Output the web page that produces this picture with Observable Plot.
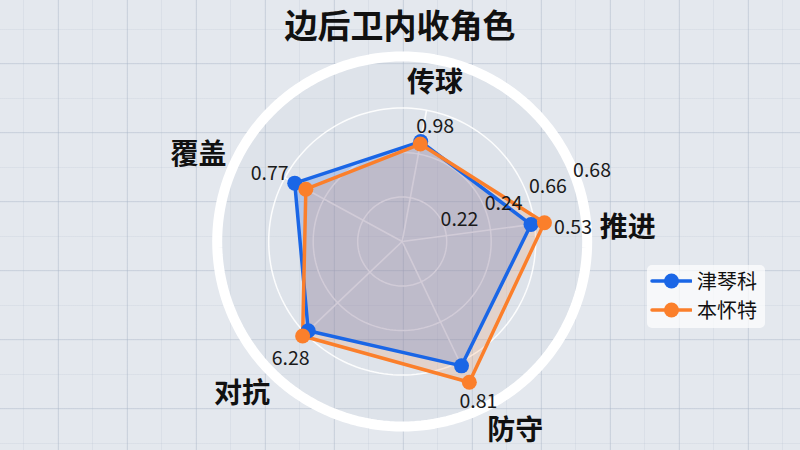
<!DOCTYPE html>
<html>
<head>
<meta charset="utf-8">
<script src="https://cdn.jsdelivr.net/npm/d3@7"></script>
<script src="https://cdn.jsdelivr.net/npm/@observablehq/plot@0.6"></script>
<style>
html, body { margin: 0; padding: 0; width: 800px; height: 450px; overflow: hidden; }
body {
  position: relative;
  font-family: "Noto Sans CJK SC", "Noto Sans", sans-serif;
  background-color: #e4e8ee;
  background-image:
    linear-gradient(to right, rgba(168,180,198,0.36) 1.5px, transparent 1.5px),
    linear-gradient(to bottom, rgba(168,180,198,0.36) 1.5px, transparent 1.5px),
    linear-gradient(to right, rgba(168,180,198,0.17) 1px, transparent 1px),
    linear-gradient(to bottom, rgba(168,180,198,0.17) 1px, transparent 1px);
  background-size: 69px 69px, 69px 69px, 34.5px 34.5px, 34.5px 34.5px;
  background-position: 58px 0, 0 63px, 23px 0, 0 29px;
}
#title { height: 40px; padding: 4px 0; line-height: 40px; text-align: center; font-size: 33px; font-weight: bold; color: #111; }
#chart svg { display: block; }
#legend { position: absolute; left: 647px; top: 265px; width: 118px; height: 63px; background: rgba(255,255,255,0.7); border-radius: 5px; box-sizing: border-box; padding-top: 1px; }
.row { height: 29.5px; display: flex; align-items: center; }
.row svg { margin-left: 3px; }
.row span { margin-left: 5px; font-size: 20px; color: #111; line-height: 1; }
</style>
</head>
<body>
<div id="title">边后卫内收角色</div>
<div id="chart"></div>
<div id="legend"></div>
<script>
// ---- data ----
const categories = ["传球", "推进", "防守", "对抗", "覆盖"];
const seriesNames = ["津琴科", "本怀特"];
const zinchenkoValues = [57.1, 73.0, 77.4, 72.8, 68.7];
const whiteValues = [55.7, 80.6, 87.6, 77.1, 61.6];
const valueLabels = ["0.98", "0.53", "0.81", "6.28", "0.77"];
const ringValues = [25, 50, 75];
const tickValues = [25, 50, 75, 100];
const tickLabels = ["0.22", "0.24", "0.66", "0.68"];
const seriesColors = ["#1a66e6", "#fb7f2b"];

// ---- layout ----
const W = 800, H = 402;
const cx = 401.7, cy = 193;   // centre in pixels
const k = 1.78;               // pixels per value unit
const rot = 10.5, step = 360 / categories.length;
const rad = a => a * Math.PI / 180;
const ang = i => rot + i * step;
const px = (v, a) => v * Math.sin(rad(a));
const py = (v, a) => v * Math.cos(rad(a));
// small label nudges (degrees / pixels)
const valueNudge = [5.5, 3, 0, -3, -1.5];
const catNudge = [1.2, 4.2, -5.3, 0, -5.6];
const catRadiusPx = [162, 226, 221, 221, 221];
const tickAngle = 69.5;

const seriesValues = [zinchenkoValues, whiteValues];
const points = [];
seriesNames.forEach((name, s) => {
  categories.forEach((c, i) => points.push({name, s, i, v: seriesValues[s][i]}));
});

const circle = v => d3.range(0, 360, 2).map(a => ({v, a}));
const ringPts = ringValues.flatMap(circle);
const outer = circle(185 / k);

const maxV = i => Math.max(...seriesValues.map(s => s[i]));
const valueR = i => maxV(i) + (16 + 12 * Math.abs(Math.sin(rad(ang(i))))) / k;
const valueA = i => ang(i) + valueNudge[i];
const catR = i => catRadiusPx[i] / k;
const catA = i => ang(i) + catNudge[i];
const tickR = v => v + (14 + 0.06 * v * k) / k;

const P = d => ({x: px(d.v, ang(d.i)), y: py(d.v, ang(d.i))});

const marks = [
  Plot.line(outer, {x: d => px(d.v, d.a), y: d => py(d.v, d.a), curve: "linear-closed",
    fill: "rgba(200,208,222,0.2)", stroke: "white", strokeWidth: 10}),
  Plot.line(ringPts, {x: d => px(d.v, d.a), y: d => py(d.v, d.a), z: "v", curve: "linear-closed",
    stroke: "white", strokeWidth: 1.5, strokeOpacity: 0.9}),
  Plot.link(categories, {x1: 0, y1: 0, x2: (d, i) => px(75, ang(i)), y2: (d, i) => py(75, ang(i)),
    stroke: "white", strokeWidth: 1.6, strokeOpacity: 0.9})
];
const fillOp = [0.22, 0.16];
seriesNames.forEach((name, s) => {
  const pts = points.filter(p => p.s === s);
  marks.push(Plot.line(pts, {x: d => P(d).x, y: d => P(d).y, curve: "linear-closed",
    fill: seriesColors[s], fillOpacity: fillOp[s], stroke: "none"}));
});
seriesNames.forEach((name, s) => {
  const pts = points.filter(p => p.s === s);
  marks.push(Plot.line(pts, {x: d => P(d).x, y: d => P(d).y, curve: "linear-closed",
    stroke: seriesColors[s], strokeWidth: 3.5, strokeLinejoin: "round"}));
});
seriesNames.forEach((name, s) => {
  const pts = points.filter(p => p.s === s);
  marks.push(Plot.dot(pts, {x: d => P(d).x, y: d => P(d).y, r: 7.5,
    fill: seriesColors[s], stroke: "none"}));
});
marks.push(
  Plot.text(valueLabels, {x: (d, i) => px(valueR(i), valueA(i)), y: (d, i) => py(valueR(i), valueA(i)),
    text: d => d, fontSize: 19.5, fill: "#1a1a1a"}),
  Plot.text(tickLabels, {x: (d, i) => px(tickR(tickValues[i]), tickAngle), y: (d, i) => py(tickR(tickValues[i]), tickAngle),
    text: d => d, fontSize: 19.5, fill: "#1a1a1a"}),
  Plot.text(categories, {x: (d, i) => px(catR(i), catA(i)), y: (d, i) => py(catR(i), catA(i)),
    text: d => d, fontSize: 28, fontWeight: "bold", fill: "#111"})
);

const chart = Plot.plot({
  width: W, height: H,
  margin: 0,
  x: {domain: [-cx / k, (W - cx) / k], axis: null},
  y: {domain: [-(H - cy) / k, cy / k], axis: null},
  style: {background: "transparent", fontFamily: '"Noto Sans CJK SC", "Noto Sans", sans-serif', overflow: "visible"},
  marks
});
document.getElementById("chart").appendChild(chart);

// ---- legend ----
const legend = document.getElementById("legend");
seriesNames.forEach((name, s) => {
  const row = document.createElement("div");
  row.className = "row";
  row.innerHTML = `<svg width="42" height="16"><line x1="2" y1="8" x2="41" y2="8" stroke="${seriesColors[s]}" stroke-width="3.5" stroke-linecap="round"/><circle cx="21.5" cy="8" r="7.5" fill="${seriesColors[s]}"/></svg><span>${name}</span>`;
  legend.appendChild(row);
});
</script>
</body>
</html>
